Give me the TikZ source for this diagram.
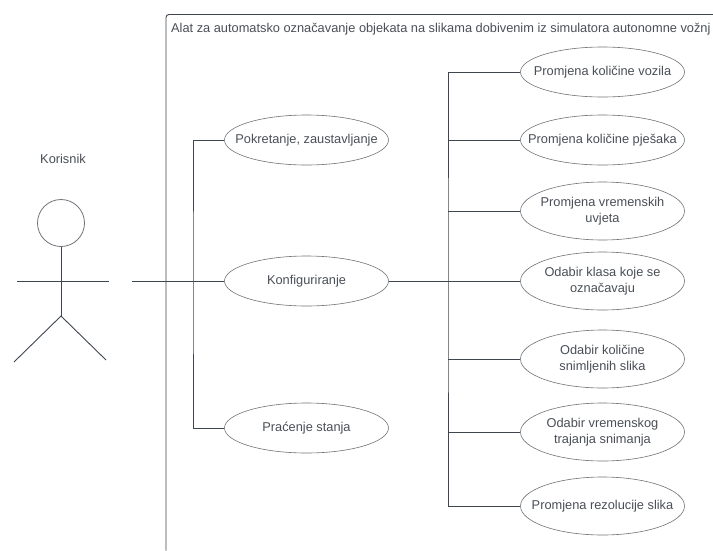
\documentclass[tikz,border=0pt]{standalone}
\usepackage{fontspec}
\setmainfont{Liberation Sans}
\definecolor{inkc}{HTML}{4A4F57}
\definecolor{linec}{HTML}{3F4650}
\definecolor{ellc}{HTML}{6F7378}
\usetikzlibrary{shapes.geometric}
\newcommand{\uctext}[1]{\makebox[0pt][c]{\begin{tabular}{@{}c@{}}#1\end{tabular}}}
\tikzset{
 usecase/.style={draw=ellc,line width=0.6pt,fill=white,ellipse,minimum width=164pt,minimum height=58pt,inner sep=0pt,text=inkc,font=\fontsize{12.8pt}{16pt}\selectfont},
 shortcase/.style={usecase,minimum height=50pt},
 wire/.style={draw=linec,line width=0.9pt},
 label/.style={text=inkc,inner sep=0pt,font=\fontsize{12.8pt}{14pt}\selectfont}
}
\begin{document}
\begin{tikzpicture}[x=1pt,y=-1pt]
\useasboundingbox (0,0) rectangle (713,550);
\fill[white] (0,0) rectangle (713,550);
\draw[wire,rounded corners=3pt] (713.5,14.5) -- (166,14.5) -- (166,550.5);
\node[label,anchor=west] (title) at (171,29.5) {Alat za automatsko označavanje objekata na slikama dobivenim iz simulatora autonomne vožnj};
\node[label] (kor) at (63,158.5) {Korisnik};
% actor
\node[draw=ellc,line width=0.8pt,circle,minimum size=47pt,inner sep=0pt] (head) at (61,223) {};
\coordinate (hip) at (61,316);
\coordinate (armL) at (17,281);
\coordinate (armR) at (109,281);
\coordinate (legL) at (14,362);
\coordinate (legR) at (106,360);
\draw[wire] (head.south) -- (hip);
\draw[wire] (armL) -- (armR);
\draw[wire] (legL) -- (hip) -- (legR);
% use cases
\node[shortcase] (start) at (306.5,140) {\uctext{Pokretanje, zaustavljanje}};
\node[shortcase] (conf) at (306.5,281) {\uctext{Konfiguriranje}};
\node[shortcase] (state) at (306.5,428) {\uctext{Praćenje stanja}};
\node[shortcase] (a) at (602.5,72) {\uctext{Promjena količine vozila}};
\node[shortcase] (b) at (602.5,140) {\uctext{Promjena količine pješaka}};
\node[usecase] (c) at (602.5,211) {\uctext{Promjena vremenskih\\uvjeta}};
\node[usecase] (d) at (602.5,281) {\uctext{Odabir klasa koje se\\označavaju}};
\node[usecase] (e) at (602.5,359) {\uctext{Odabir količine\\snimljenih slika}};
\node[usecase] (f) at (602.5,432) {\uctext{Odabir vremenskog\\trajanja snimanja}};
\node[usecase] (g) at (602.5,506) {\uctext{Promjena rezolucije slika}};
% connectors
\coordinate (actorEnd) at (132,281);
\coordinate (busL) at (193,281);
\coordinate (busR) at (448,281);
\draw[wire] (actorEnd) -- (conf.west);
\draw[wire] (start.west) -| (busL) |- (state.west);
\draw[wire] (conf.east) -- (d.west);
\draw[wire] (a.west) -| (busR) |- (g.west);
\draw[wire] (busR |- b.west) -- (b.west);
\draw[wire] (busR |- c.west) -- (c.west);
\draw[wire] (busR |- e.west) -- (e.west);
\draw[wire] (busR |- f.west) -- (f.west);
\end{tikzpicture}
\end{document}
